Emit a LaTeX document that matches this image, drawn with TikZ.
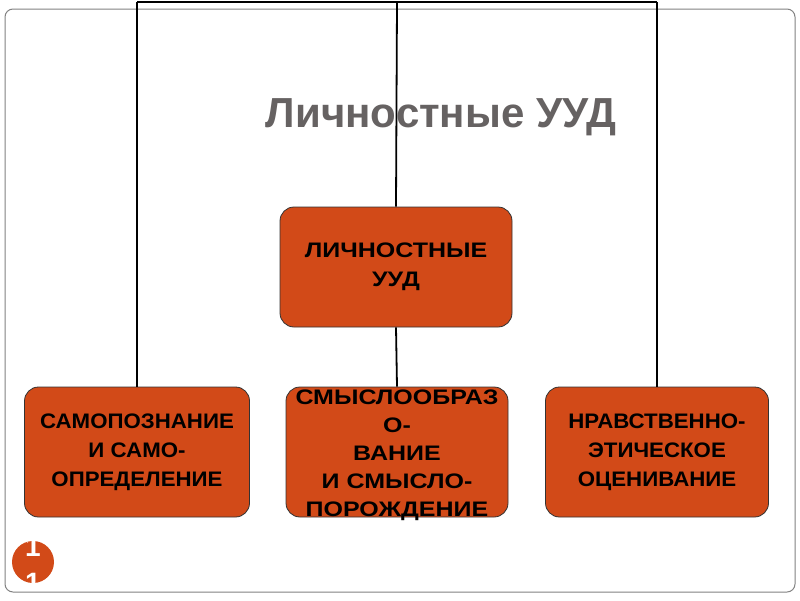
\documentclass[tikz,border=0pt]{standalone}
\usepackage{fontspec}
\setmainfont{Liberation Sans}
\newfontfamily\cardfont{Liberation Sans}[FakeStretch=1.19]
\newfontfamily\cardnarrow{Liberation Sans}[FakeStretch=1.06]
\usepackage{tikz}
\usetikzlibrary{positioning}
\definecolor{cardfill}{RGB}{210,74,24}
\definecolor{titlegray}{RGB}{102,98,98}
\definecolor{framegray}{RGB}{130,130,130}

\begin{document}
\begin{tikzpicture}[x=1pt,y=-1pt,
    card/.style={draw=black!80,line width=0.8pt,rounded corners=14pt,fill=cardfill,minimum width=224pt,minimum height=130pt,align=center,font=\cardfont\bfseries\fontsize{21}{29}\selectfont,inner sep=0pt},
    narrow/.style={font=\cardnarrow\bfseries\fontsize{21}{29}\selectfont},
    link/.style={line width=1.8pt,black}
  ]
    \useasboundingbox (0,0) rectangle (800,600);
    \fill[white] (0,0) rectangle (800,600);
    \draw[framegray,line width=1pt,rounded corners=8pt] (5,9) rectangle (795,592);

    \node[font=\bfseries\fontsize{42}{44}\selectfont,text=titlegray] (title) at (441,117) {Личностные УУД};

    % bus above everything
    \coordinate (busL) at (137,2);
    \coordinate (busM) at (397,2);
    \coordinate (busR) at (657,2);

    \node[card, minimum width=232pt, minimum height=120pt] (root) at (396,267) {ЛИЧНОСТНЫЕ\\УУД};
    \node[card, narrow, minimum width=225pt] (self) at (137,452) {САМОПОЗНАНИЕ\\И САМО-\\ОПРЕДЕЛЕНИЕ};
    \node[card, minimum width=222pt] (sense) at (397,452) {};
    \node[card, narrow, minimum width=223pt] (moral) at (657,452) {НРАВСТВЕННО-\\ЭТИЧЕСКОЕ\\ ОЦЕНИВАНИЕ};

    \draw[link] (busL) -- (busR);
    \draw[link] (busL) -- (self.north);
    \draw[link] (busM) -- (root.north);
    \draw[link] (busR) -- (moral.north);
    \draw[link] (root.south) -- (sense.north);
    \node[font=\cardfont\bfseries\fontsize{21}{28}\selectfont,align=center] (sensetext) at (397,455) {СМЫСЛООБРАЗ\\О-\\ВАНИЕ\\И СМЫСЛО-\\ПОРОЖДЕНИЕ};

    % page number badge
    \node[circle,fill=cardfill,minimum size=42pt,inner sep=0pt] (badge) at (33,562) {};
    \begin{scope}
      \clip (badge.center) circle (21pt);
      \node[text=white,font=\bfseries\fontsize{28}{36}\selectfont,align=center] (pagenum) at (33,565) {1\\1};
    \end{scope}
  \end{tikzpicture}
\end{document}
